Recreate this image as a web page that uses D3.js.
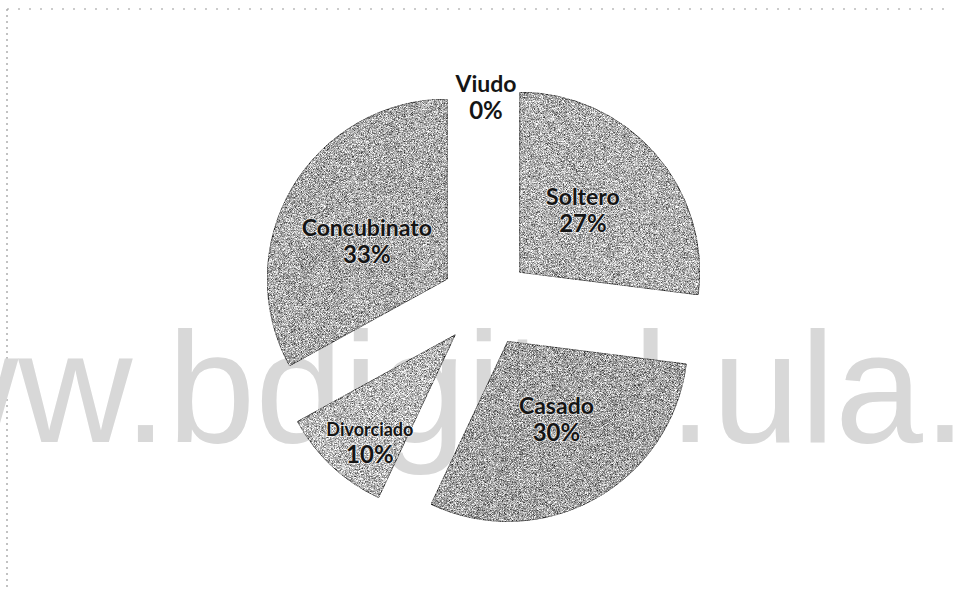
<!DOCTYPE html>
<html>
<head>
<meta charset="utf-8">
<script src="https://cdn.jsdelivr.net/npm/d3@7"></script>
<style>
  body { margin: 0; background: #fff; }
  svg { display: block; }
</style>
</head>
<body>
<div id="chart"></div>
<script>
// data
var categories = ["Soltero", "Casado", "Divorciado", "Concubinato", "Viudo"];
var values = [27, 30, 10, 33, 0];
var fills = ["#b0b0b0", "#a4a4a4", "#b8b8b8", "#ababab", "#ababab"];

var w = 955;
var h = 591;
var cx = 486, cy = 302;
var radius = 180;
var explode = 45;

var svg = d3.select("#chart").append("svg").attr("width", w).attr("height", h);
svg.append("rect").attr("width", w).attr("height", h).attr("fill", "#fff");

//grainy scan look for the slices
var defs = svg.append("defs");
var grain = defs.append("filter").attr("id", "grain")
    .attr("color-interpolation-filters", "sRGB")
    .attr("x", 0).attr("y", 0).attr("width", 1).attr("height", 1);
grain.append("feTurbulence")
    .attr("type", "fractalNoise").attr("baseFrequency", 1.6)
    .attr("numOctaves", 2).attr("seed", 7).attr("result", "noise");
grain.append("feColorMatrix").attr("in", "noise").attr("type", "matrix")
    .attr("values", "1 0 0 0 0  1 0 0 0 0  1 0 0 0 0  0 0 0 0 1")
    .attr("result", "gray");
grain.append("feComposite").attr("in", "SourceGraphic").attr("in2", "gray")
    .attr("operator", "arithmetic")
    .attr("k1", 0).attr("k2", 1).attr("k3", 1.5).attr("k4", -0.75)
    .attr("result", "mix");
grain.append("feComposite").attr("in", "mix").attr("in2", "SourceGraphic")
    .attr("operator", "in");

//dotted frame of the scanned page
svg.append("line").attr("x1", 7).attr("y1", 9).attr("x2", 948).attr("y2", 9)
    .attr("stroke", "#9a9a9a").attr("stroke-width", 1.2).attr("stroke-dasharray", "2 9");
svg.append("line").attr("x1", 7).attr("y1", 9).attr("x2", 7).attr("y2", h)
    .attr("stroke", "#9a9a9a").attr("stroke-width", 1.2).attr("stroke-dasharray", "2 4");

//watermark sits behind the pie
svg.append("text")
    .attr("x", -210).attr("y", 442)
    .style("font-family", "'Liberation Sans', Arial, sans-serif")
    .style("font-size", "158px")
    .attr("fill", "#d8d8d8")
    .text("www.bdigital.ula.ve");

var pie = d3.pie().sort(null).value((d) => d);
var arcs = pie(values);
var arc = d3.arc().innerRadius(0).outerRadius(radius);

var slices = svg.selectAll(".slice")
    .data(arcs)
    .enter()
    .append("g")
    .classed("slice", true)
    .attr("transform", function(d) {
        var mid = (d.startAngle + d.endAngle) / 2;
        return "translate(" + (cx + explode * Math.sin(mid)) + "," + (cy - explode * Math.cos(mid)) + ")";
    });

slices.filter((d) => d.value > 0)
    .append("path")
    .attr("d", arc)
    .attr("fill", (d) => fills[d.index])
    .attr("stroke", "#5a5a5a")
    .attr("stroke-width", 0.8)
    .attr("filter", "url(#grain)");

//labels: inside for the big slices, further out for the thin one, above for the empty one
function labelPos(d) {
    var mid = (d.startAngle + d.endAngle) / 2;
    var r = radius * 0.5;
    if (d.value === 0) r = radius * 0.9;
    else if (d.value < 15) r = radius * 0.75;
    if (d.value > 0) mid -= 4 * Math.PI / 180;
    return [r * Math.sin(mid), -r * Math.cos(mid)];
}

var labels = slices.append("text")
    .attr("text-anchor", "middle")
    .style("font-family", "Lato, 'Open Sans', sans-serif")
    .style("font-weight", "bold")
    .attr("fill", "#151515")
    .attr("stroke", (d) => d.value > 0 ? "rgba(255,255,255,0.55)" : "none")
    .attr("stroke-width", 2)
    .style("paint-order", "stroke");

labels.append("tspan")
    .attr("x", (d) => labelPos(d)[0])
    .attr("y", (d) => labelPos(d)[1] - 3)
    .style("font-size", (d) => d.value > 0 && d.value < 15 ? "18px" : "23px")
    .text((d) => categories[d.index]);

labels.append("tspan")
    .attr("x", (d) => labelPos(d)[0])
    .attr("y", (d) => labelPos(d)[1] + 24)
    .style("font-size", "24px")
    .text((d) => d.value + "%");
</script>
</body>
</html>
